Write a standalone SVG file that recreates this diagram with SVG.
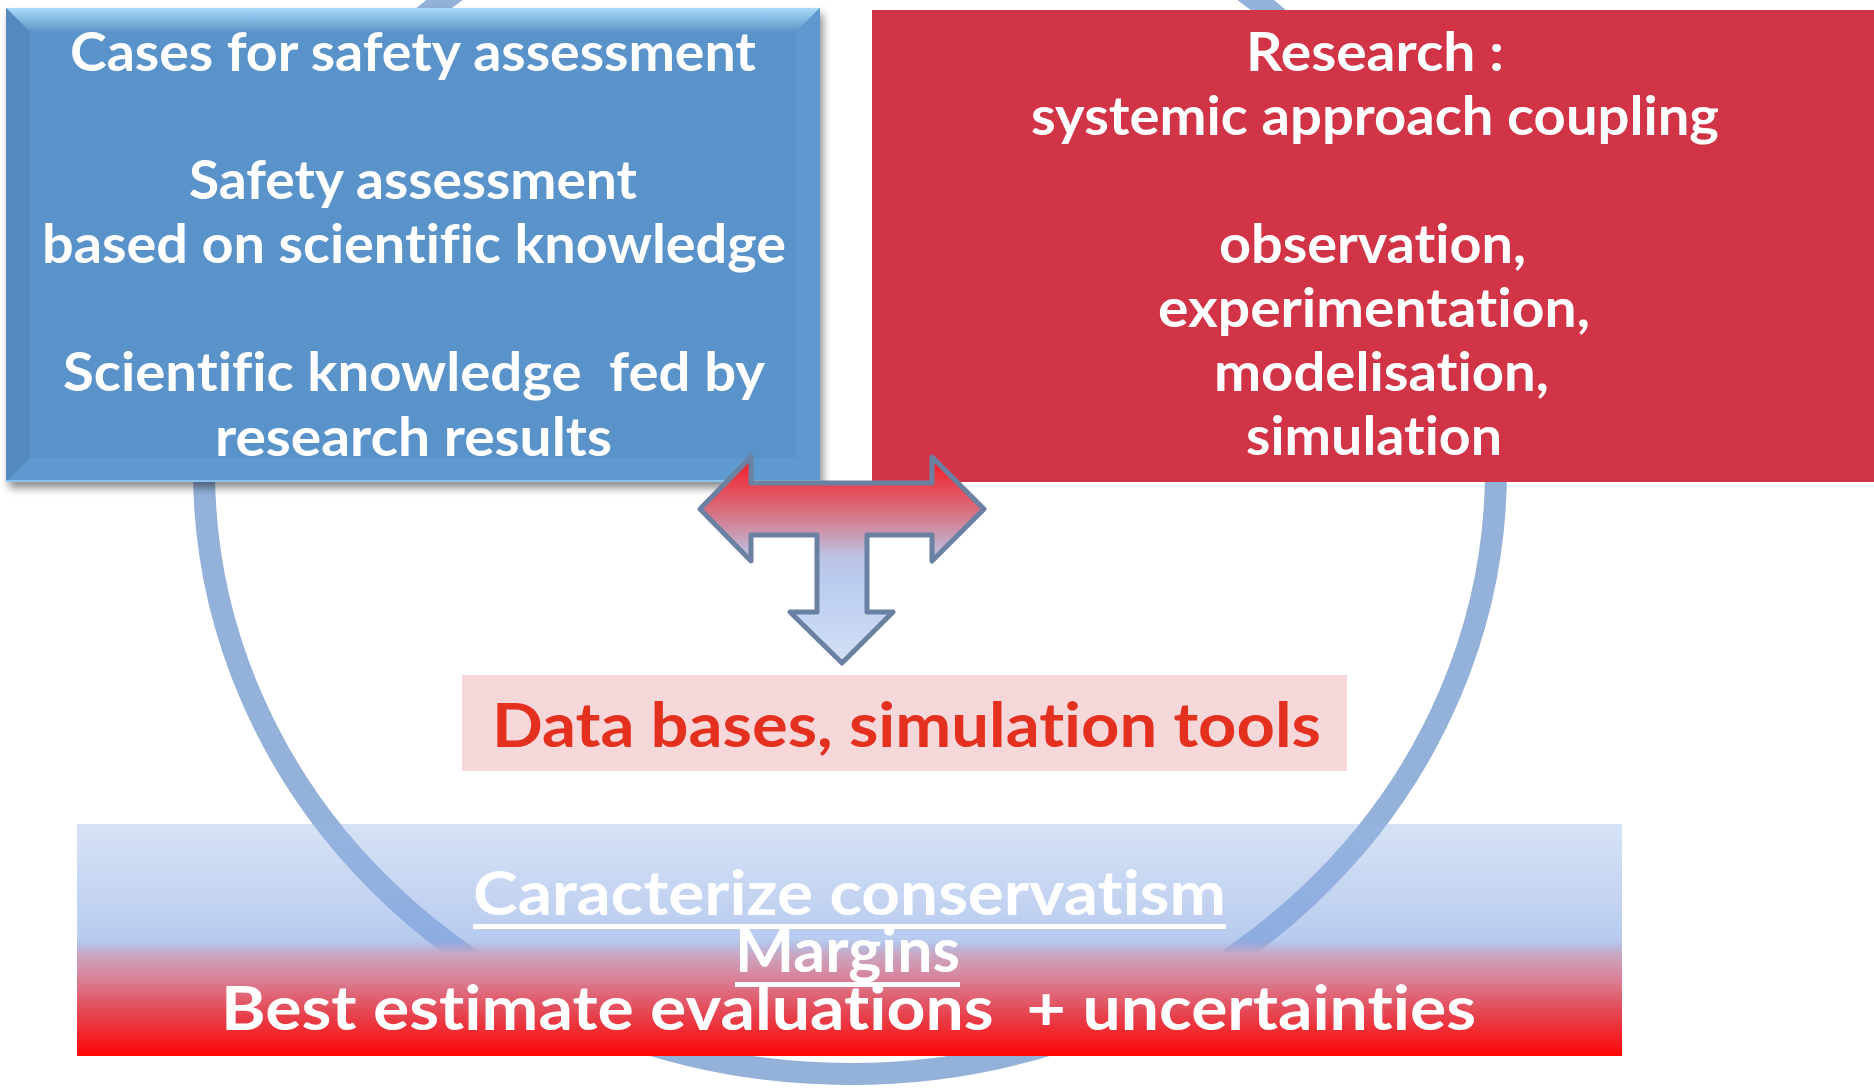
<svg xmlns="http://www.w3.org/2000/svg" width="1874" height="1088" viewBox="0 0 1874 1088">
  <defs>
    <style>
      .wt { font-family: Lato, "Open Sans", "Liberation Sans", sans-serif; font-weight: 700; fill: #FFFFFF; font-variant-ligatures: none; font-feature-settings: "liga" 0, "clig" 0, "calt" 0, "dlig" 0; }
      .t54 { font-size: 54px; }
      .t62 { font-size: 62px; }
      .red { font-family: Lato, "Open Sans", "Liberation Sans", sans-serif; font-weight: 700; font-size: 62px; fill: #E3301F; font-variant-ligatures: none; font-feature-settings: "liga" 0, "clig" 0, "calt" 0, "dlig" 0; }
      .ring { fill: none; stroke: #93B1D9; stroke-width: 22; }
      .tee { stroke: #6B81A2; stroke-width: 5; stroke-linejoin: round; }
    </style>
    <linearGradient id="bevelTop" x1="0" y1="0" x2="0" y2="1">
      <stop offset="0" stop-color="#A9DAF8"/>
      <stop offset="1" stop-color="#5C95CA"/>
    </linearGradient>
    <linearGradient id="marginFill" gradientUnits="userSpaceOnUse" x1="0" y1="824" x2="0" y2="1056">
      <stop offset="0" stop-color="#98B6E6" stop-opacity="0.4"/>
      <stop offset="0.5" stop-color="#89A8E4" stop-opacity="0.6"/>
      <stop offset="0.56" stop-color="#C9A8C4" stop-opacity="1"/>
      <stop offset="0.66" stop-color="#D8849A"/>
      <stop offset="0.82" stop-color="#E6434F"/>
      <stop offset="1" stop-color="#FF0606"/>
    </linearGradient>
    <linearGradient id="teeFill" gradientUnits="userSpaceOnUse" x1="0" y1="457" x2="0" y2="663">
      <stop offset="0" stop-color="#F8161F"/>
      <stop offset="0.13" stop-color="#E8424F"/>
      <stop offset="0.26" stop-color="#DA6E7E"/>
      <stop offset="0.38" stop-color="#C99CB5"/>
      <stop offset="0.48" stop-color="#BCC3E3"/>
      <stop offset="0.6" stop-color="#B9CCEF"/>
      <stop offset="1" stop-color="#D3DFF5"/>
    </linearGradient>
    <filter id="boxShadow" x="-5%" y="-5%" width="112%" height="115%">
      <feDropShadow dx="3" dy="6" stdDeviation="4" flood-color="#000000" flood-opacity="0.45"/>
    </filter>
  </defs>

  <rect width="1874" height="1088" fill="#FFFFFF"/>

  <!-- cycle ring behind everything -->
  <g id="cycle">
    <ellipse class="ring" cx="850" cy="470" rx="646" ry="604"/>
  </g>

  <!-- bottom band: margins -->
  <g id="node-margins">
    <rect x="77" y="824" width="1545" height="232" fill="url(#marginFill)"/>
    <text class="wt t62" x="473" y="915" textLength="753" lengthAdjust="spacingAndGlyphs">Caracterize conservatism</text>
    <rect x="473" y="924" width="753" height="5" fill="#FFFFFF"/>
    <text class="wt t62" x="735" y="972" textLength="225" lengthAdjust="spacingAndGlyphs">Margins</text>
    <rect x="735" y="982" width="225" height="5" fill="#FFFFFF"/>
    <text class="wt t62" x="221" y="1030" textLength="1255" lengthAdjust="spacingAndGlyphs" xml:space="preserve">Best estimate evaluations  + uncertainties</text>
  </g>

  <!-- data bases label -->
  <g id="node-databases">
    <rect x="462" y="675" width="885" height="96" fill="#F6D8DB"/>
    <text class="red" x="492" y="747" textLength="829" lengthAdjust="spacingAndGlyphs">Data bases, simulation tools</text>
  </g>

  <!-- safety assessment box (bevelled) -->
  <g id="node-safety">
    <rect x="6" y="8" width="814" height="474" fill="#5A93C9" filter="url(#boxShadow)"/>
    <polygon points="6,8 820,8 796,32 30,32" fill="url(#bevelTop)"/>
    <polygon points="6,8 30,32 30,458 6,482" fill="#5389BF"/>
    <polygon points="820,8 820,482 796,458 796,32" fill="#5D98CE"/>
    <polygon points="6,482 820,482 796,458 30,458" fill="#5E99CF"/>
    <line x1="6" y1="481" x2="820" y2="481" stroke="#8CC3EE" stroke-width="2"/>
    <text class="wt t54" x="70" y="71" textLength="686" lengthAdjust="spacingAndGlyphs">Cases for safety assessment</text>
    <text class="wt t54" x="189" y="199" textLength="448" lengthAdjust="spacingAndGlyphs">Safety assessment</text>
    <text class="wt t54" x="42" y="263" textLength="744" lengthAdjust="spacingAndGlyphs">based on scientific knowledge</text>
    <text class="wt t54" x="63" y="391" textLength="702" lengthAdjust="spacingAndGlyphs" xml:space="preserve">Scientific knowledge  fed by</text>
    <text class="wt t54" x="215" y="456" textLength="397" lengthAdjust="spacingAndGlyphs">research results</text>
  </g>

  <!-- research box -->
  <g id="node-research">
    <rect x="872" y="10" width="1002" height="472" fill="#D23447"/>
    <text class="wt t54" x="1246" y="71" textLength="258" lengthAdjust="spacingAndGlyphs">Research :</text>
    <text class="wt t54" x="1031" y="135" textLength="688" lengthAdjust="spacingAndGlyphs">systemic approach coupling</text>
    <text class="wt t54" x="1219" y="263" textLength="307" lengthAdjust="spacingAndGlyphs">observation,</text>
    <text class="wt t54" x="1158" y="327" textLength="432" lengthAdjust="spacingAndGlyphs">experimentation,</text>
    <text class="wt t54" x="1214" y="391" textLength="335" lengthAdjust="spacingAndGlyphs">modelisation,</text>
    <text class="wt t54" x="1246" y="455" textLength="256" lengthAdjust="spacingAndGlyphs">simulation</text>
  </g>

  <!-- three-way arrow linking the boxes -->
  <g id="connectors">
    <path class="tee" fill="url(#teeFill)" d="M700,509 L751,457 L751,483 L932,483 L932,457 L984,509 L932,561 L932,535 L867,535 L867,612 L893,612 L842,663 L790,612 L817,612 L817,535 L751,535 L751,561 Z"/>
  </g>
</svg>
